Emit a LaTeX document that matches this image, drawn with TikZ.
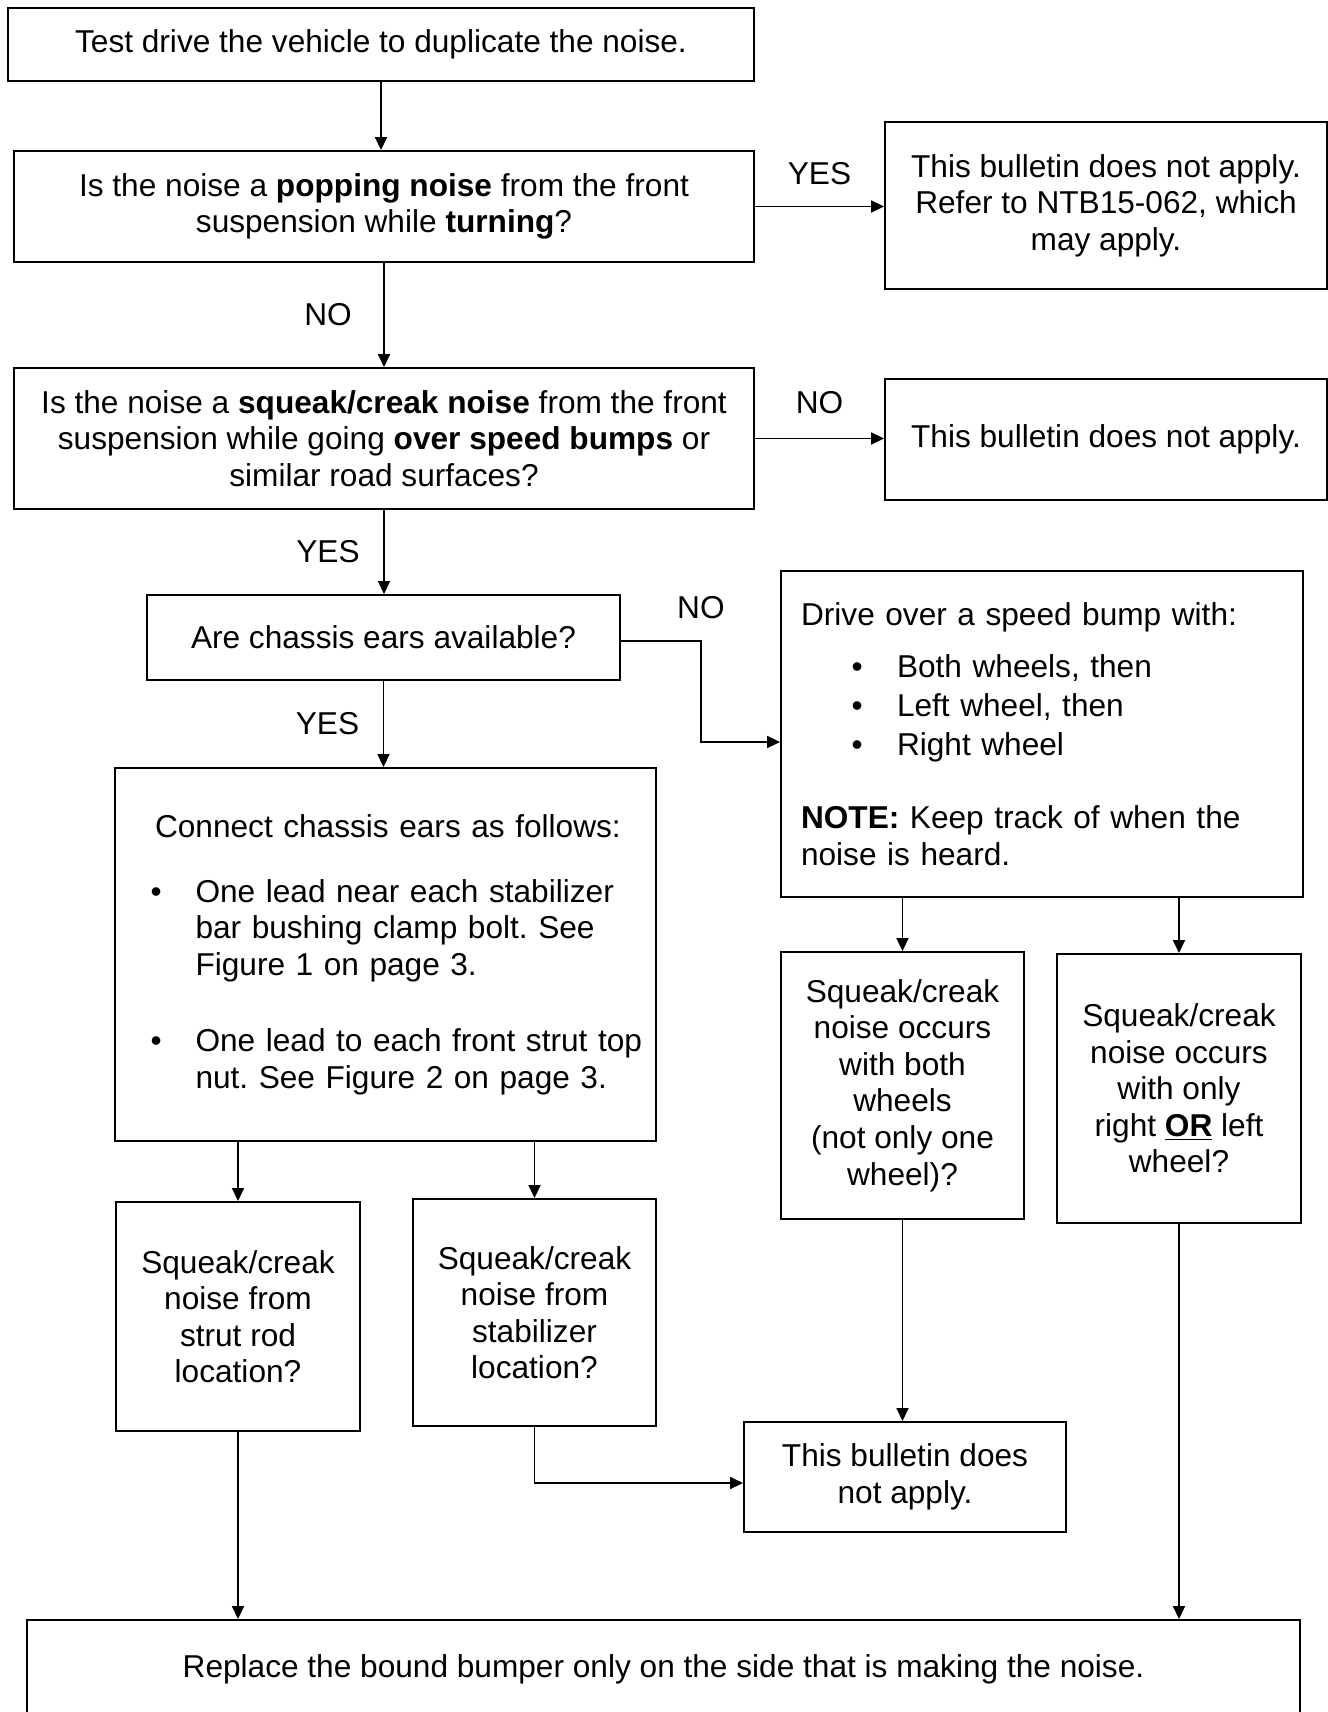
\documentclass[tikz,border=0pt]{standalone}
\usepackage{fontspec}
\setmainfont{Liberation Sans}
\usetikzlibrary{arrows.meta}
\frenchspacing

\begin{document}
\begin{tikzpicture}[x=0.02cm,y=-0.02cm,
  box/.style={draw,line width=1.1pt,align=center,inner sep=0pt,
    font=\fontsize{18}{20.8}\selectfont},
  arr/.style={line width=0.9pt,-{Triangle[length=0.26cm,width=0.24cm]}},
  lbl/.style={font=\fontsize{18}{20.8}\selectfont}]
\useasboundingbox (0,0) rectangle (1328,1712);
\node[box,minimum width=14.92cm,minimum height=1.46cm] (test) at (381,44.5) {Test drive the vehicle to duplicate the noise.};
\node[box,minimum width=14.8cm,minimum height=2.22cm] (pop) at (384,206.5) {Is the noise a \textbf{popping noise} from the front\\suspension while \textbf{turning}?};
\node[box,minimum width=8.84cm,minimum height=3.34cm] (ntb) at (1106,205.5) {This bulletin does not apply.\\Refer to NTB15-062, which\\may apply.};
\node[box,minimum width=14.8cm,minimum height=2.82cm] (squeak) at (384,438.5) {Is the noise a \textbf{squeak/creak noise} from the front\\suspension while going \textbf{over speed bumps} or\\similar road surfaces?};
\node[box,minimum width=8.84cm,minimum height=2.42cm] (nobull) at (1106,439.5) {This bulletin does not apply.};
\node[box,minimum width=9.46cm,minimum height=1.7cm] (ears) at (383.5,637.5) {Are chassis ears available?};
\node[box,align=left,text width=9.64cm,inner xsep=0.4cm,minimum height=6.52cm] (drive) at (1042,734) {Drive over a speed bump with:\\[8.8pt]
\hspace*{1.01cm}\makebox[0.91cm][l]{•}Both wheels, then\\[1.4pt]
\hspace*{1.01cm}\makebox[0.91cm][l]{•}Left wheel, then\\[1.4pt]
\hspace*{1.01cm}\makebox[0.91cm][l]{•}Right wheel\\[20.7pt]
\textbf{NOTE:} Keep track of when the\\
noise is heard.};
\node[box,align=left,text width=10.62cm,inner xsep=0.1cm,minimum height=7.46cm] (connect) at (385.5,954.5) {\hspace*{0.7cm}Connect chassis ears as follows:\\[16.2pt]
\hspace*{0.61cm}\makebox[0.9cm][l]{•}One lead near each stabilizer\\
\hspace*{1.51cm}bar bushing clamp bolt. See\\
\hspace*{1.51cm}Figure 1 on page 3.\\[22.7pt]
\hspace*{0.61cm}\makebox[0.9cm][l]{•}One lead to each front strut top\\
\hspace*{1.51cm}nut. See Figure 2 on page 3.};
\node[box,minimum width=4.88cm,minimum height=4.58cm] (strut) at (238,1316.5) {Squeak/creak\\noise from\\strut rod\\location?};
\node[box,minimum width=4.86cm,minimum height=4.54cm] (stab) at (534.5,1312.5) {Squeak/creak\\noise from\\stabilizer\\location?};
\node[box,minimum width=4.86cm,minimum height=5.34cm] (both) at (902.5,1085.5) {Squeak/creak\\noise occurs\\with both\\wheels\\(not only one\\wheel)?};
\node[box,minimum width=4.88cm,minimum height=5.38cm] (only) at (1179,1088.5) {Squeak/creak\\noise occurs\\with only\\right \underline{\textbf{OR}} left\\wheel?};
\node[box,minimum width=6.44cm,minimum height=2.2cm] (nobull2) at (905,1477) {This bulletin does\\not apply.};
\node[box,minimum width=25.46cm,minimum height=1.96cm] (replace) at (663.5,1669) {Replace the bound bumper only on the side that is making the noise.};
\draw[arr] (test.south) -- (test.south |- pop.north);
\draw[arr] (pop.east) -- (pop.east -| ntb.west) node[midway,yshift=0.66cm,lbl] {YES};
\draw[arr] (pop.south) -- (squeak.north) node[midway,xshift=-1.12cm,lbl] {NO};
\draw[arr] (squeak.east) -- (squeak.east -| nobull.west) node[midway,yshift=0.72cm,lbl] {NO};
\draw[arr] (squeak.south) -- (squeak.south |- ears.north) node[midway,xshift=-1.12cm,lbl] {YES};
\draw[arr] ([yshift=-0.07cm]ears.east) -- ++(80,0) node[yshift=0.66cm,lbl] {NO} |- ([yshift=-0.16cm]drive.west);
\draw[arr] (ears.south) -- (ears.south |- connect.north) node[midway,xshift=-1.12cm,lbl] {YES};
\draw[arr] (strut.north |- connect.south) -- (strut.north);
\draw[arr] (stab.north |- connect.south) -- (stab.north);
\draw[arr] (both.north |- drive.south) -- (both.north);
\draw[arr] (only.north |- drive.south) -- (only.north);
\draw[arr] (both.south) -- (both.south |- nobull2.north);
\draw[arr] (stab.south) |- ([yshift=-0.12cm]nobull2.west);
\draw[arr] (strut.south) -- (strut.south |- replace.north);
\draw[arr] (only.south) -- (only.south |- replace.north);
\end{tikzpicture}
\end{document}
